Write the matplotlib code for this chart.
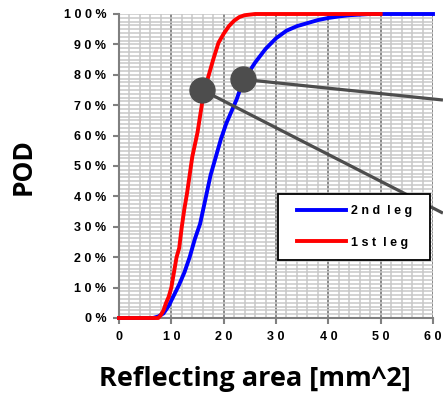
import matplotlib
matplotlib.use('Agg')
from matplotlib import pyplot
from matplotlib.patches import Rectangle
from matplotlib.ticker import MultipleLocator, FuncFormatter

# 2nd leg (blue) POD curve
leg2_area = [0, 6.5, 7.5, 8.5, 9.5, 10.5, 11.5, 12.5, 13.5, 14.5, 15.5, 16.5,
             17.5, 18.5, 19.5, 20.5, 21.5, 22.5, 23.5, 24.5, 26, 28, 30, 32,
             34, 36, 38, 40, 42, 44, 46, 48, 50, 60]
leg2_pod = [0, 0, 0.5, 1.5, 4, 7.5, 11, 15, 20, 26, 31, 39,
            47, 53, 59, 64, 68, 72, 77, 80, 84, 88.5, 92, 94.5,
            96, 97, 98, 98.7, 99.2, 99.6, 99.8, 100, 100, 100]

# 1st leg (red) POD curve
leg1_area = [0, 7.5, 8, 8.5, 9, 9.5, 10, 10.5, 11, 11.5, 12, 12.5, 13, 13.5,
             14, 15, 16, 17, 18, 19, 20, 21, 22, 23, 24, 26, 28, 50]
leg1_pod = [0, 0, 1, 2.5, 5, 7, 10, 15, 20, 23, 30, 36, 41, 47,
            53, 61, 72, 79, 85, 90.5, 93.5, 96, 97.8, 99, 99.6, 100, 100, 100]

# callout markers and the leader lines running off to the right
callout_points = [(15.9, 75.0), (23.7, 78.5)]
callout_ends = [(61.9, 34.5), (61.9, 71.7)]

x_ticks = [0, 10, 20, 30, 40, 50, 60]
y_ticks = [0, 10, 20, 30, 40, 50, 60, 70, 80, 90, 100]

dark = '#4d4d4d'


def spaced(text):
    return ' '.join(text)


fig = pyplot.figure(figsize=(4.43, 3.94), dpi=100)
ax = fig.add_axes([119 / 443, 1 - 318 / 394, 314 / 443, 304 / 394])

ax.plot(leg2_area, leg2_pod, color='#0000ff', linewidth=2.8,
        label=spaced('2nd') + '  ' + spaced('leg'), zorder=5, clip_on=False)
ax.plot(leg1_area, leg1_pod, color='#ff0000', linewidth=2.8,
        label=spaced('1st') + '  ' + spaced('leg'), zorder=6, clip_on=False)

for (px, py), (ex, ey) in zip(callout_points, callout_ends):
    ax.plot([px, ex], [py, ey], color=dark, linewidth=2.3, zorder=7,
            clip_on=False, solid_capstyle='butt')
    ax.plot(px, py, 'o', color=dark, markersize=18, zorder=8, clip_on=False)

ax.set_xlim(0, 60)
ax.set_ylim(0, 100)
ax.xaxis.set_minor_locator(MultipleLocator(2))
ax.yaxis.set_minor_locator(MultipleLocator(1.25))
ax.set_xticks(x_ticks)
ax.set_yticks(y_ticks)
ax.xaxis.set_major_formatter(FuncFormatter(lambda v, p: spaced('%d' % v)))
ax.yaxis.set_major_formatter(FuncFormatter(lambda v, p: spaced('%d%%' % v)))

ax.set_axisbelow(True)
ax.grid(True, which='minor', color='#c8c8c8', linewidth=1.1)
ax.grid(True, which='major', axis='y', color='#c8c8c8', linewidth=1.1)
ax.grid(True, which='major', axis='x', color='#808080', linewidth=1.3)

for side in ['top', 'right']:
    ax.spines[side].set_visible(False)
for side in ['left', 'bottom']:
    ax.spines[side].set_color('#808080')
    ax.spines[side].set_linewidth(1.5)

ax.tick_params(which='major', direction='out', length=4, width=1.5,
               color='#808080', pad=5)
ax.tick_params(which='minor', length=0)
for lab in ax.get_xticklabels() + ax.get_yticklabels():
    lab.set_fontfamily('Liberation Sans')
    lab.set_fontweight('bold')
    lab.set_fontsize(9)

# legend box drawn by hand so it can be wider than its contents
box = Rectangle((0.506, 0.191), 0.484, 0.217, transform=ax.transAxes,
                facecolor='white', edgecolor='black', linewidth=1.3,
                zorder=9, clip_on=False)
ax.add_patch(box)
leg = ax.legend(handles=ax.get_lines()[:2],
                loc='center left', bbox_to_anchor=(0.567, 0.299),
                frameon=False, borderpad=0, labelspacing=1.55,
                handlelength=3.9, handletextpad=0.4, borderaxespad=0,
                prop={'family': 'Liberation Sans', 'weight': 'bold',
                      'size': 9})
leg.set_zorder(10)

fig.text(23 / 443, 1 - 167 / 394, 'POD', rotation=90, ha='center',
         va='center', fontsize=19, fontweight='bold', family='Open Sans')
fig.text(255 / 443, 1 - 379 / 394, 'Reflecting area [mm^2]', ha='center',
         va='center', fontsize=19.5, fontweight='bold', family='Open Sans')

pyplot.savefig('out.png', dpi=100)
